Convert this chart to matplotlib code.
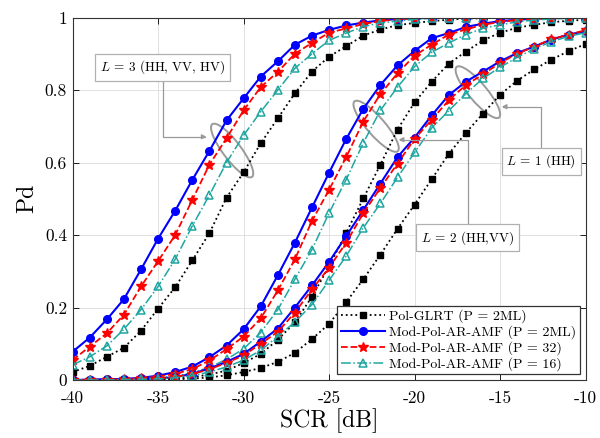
import numpy as np
import matplotlib
matplotlib.use("Agg")
import matplotlib.pyplot as plt
from matplotlib.patches import Ellipse
from matplotlib.transforms import ScaledTranslation

plt.rcParams['font.family'] = ['cmr10', 'DejaVu Serif']
plt.rcParams['mathtext.fontset'] = 'cm'
plt.rcParams['axes.unicode_minus'] = False
plt.rcParams['axes.formatter.use_mathtext'] = True

# SCR axis [dB], one point per dB
scr = np.arange(-40, -9)

# L = 3 (HH, VV, HV)
glrt_L3 = [0.022, 0.039, 0.064, 0.089, 0.136, 0.197, 0.256, 0.33, 0.405, 0.503,
           0.573, 0.653, 0.722, 0.791, 0.851, 0.892, 0.921, 0.95, 0.967, 0.979,
           0.985, 0.99, 0.994, 0.997, 0.998, 0.999, 1.0, 1.0, 1.0, 1.0, 1.0]
amf_L3 = [0.078, 0.117, 0.167, 0.223, 0.305, 0.39, 0.467, 0.552, 0.632, 0.716,
          0.777, 0.837, 0.879, 0.925, 0.95, 0.966, 0.978, 0.986, 0.992, 0.996,
          0.998, 0.999, 1.0, 1.0, 1.0, 1.0, 1.0, 1.0, 1.0, 1.0, 1.0]
amf32_L3 = [0.055, 0.092, 0.129, 0.18, 0.258, 0.328, 0.40, 0.497, 0.594, 0.667,
            0.744, 0.808, 0.85, 0.9, 0.93, 0.958, 0.97, 0.982, 0.99, 0.995,
            0.998, 0.999, 1.0, 1.0, 1.0, 1.0, 1.0, 1.0, 1.0, 1.0, 1.0]
amf16_L3 = [0.042, 0.064, 0.094, 0.14, 0.194, 0.258, 0.333, 0.425, 0.51, 0.60,
            0.675, 0.74, 0.80, 0.86, 0.90, 0.937, 0.957, 0.975, 0.985, 0.99,
            0.995, 0.998, 0.999, 1.0, 1.0, 1.0, 1.0, 1.0, 1.0, 1.0, 1.0]

# L = 2 (HH, VV)
glrt_L2 = [0.0, 0.0, 0.0, 0.001, 0.001, 0.002, 0.004, 0.008, 0.015, 0.026,
           0.047, 0.072, 0.111, 0.159, 0.23, 0.314, 0.406, 0.501, 0.594, 0.691,
           0.766, 0.823, 0.873, 0.906, 0.937, 0.958, 0.972, 0.98, 0.987, 0.991, 0.994]
amf_L2 = [0.0, 0.001, 0.002, 0.003, 0.006, 0.012, 0.022, 0.037, 0.063, 0.095,
          0.14, 0.203, 0.289, 0.379, 0.476, 0.572, 0.665, 0.748, 0.814, 0.868,
          0.908, 0.943, 0.957, 0.974, 0.983, 0.99, 0.994, 0.997, 0.998, 0.999, 1.0]
amf32_L2 = [0.0, 0.001, 0.001, 0.002, 0.005, 0.009, 0.017, 0.03, 0.054, 0.085,
            0.12, 0.17, 0.247, 0.333, 0.439, 0.525, 0.615, 0.713, 0.789, 0.846,
            0.895, 0.925, 0.953, 0.967, 0.98, 0.988, 0.993, 0.996, 0.998, 0.999, 1.0]
amf16_L2 = [0.0, 0.0, 0.001, 0.002, 0.003, 0.006, 0.011, 0.02, 0.035, 0.057,
            0.086, 0.131, 0.194, 0.278, 0.36, 0.461, 0.553, 0.654, 0.744, 0.808,
            0.865, 0.904, 0.93, 0.953, 0.97, 0.98, 0.988, 0.993, 0.996, 0.998, 0.999]

# L = 1 (HH)
glrt_L1 = [0.0, 0.0, 0.0, 0.0, 0.001, 0.001, 0.002, 0.004, 0.007, 0.013,
           0.022, 0.033, 0.05, 0.075, 0.113, 0.155, 0.215, 0.278, 0.346, 0.417,
           0.484, 0.554, 0.624, 0.682, 0.735, 0.787, 0.826, 0.857, 0.884, 0.907, 0.927]
amf_L1 = [0.0, 0.0, 0.001, 0.001, 0.002, 0.004, 0.008, 0.017, 0.032, 0.05,
          0.072, 0.106, 0.142, 0.2, 0.261, 0.326, 0.397, 0.469, 0.542, 0.615,
          0.669, 0.73, 0.786, 0.823, 0.851, 0.879, 0.902, 0.92, 0.939, 0.953, 0.962]
amf32_L1 = [0.0, 0.0, 0.001, 0.001, 0.002, 0.004, 0.008, 0.016, 0.03, 0.047,
            0.068, 0.1, 0.133, 0.186, 0.25, 0.31, 0.379, 0.46, 0.53, 0.597,
            0.665, 0.718, 0.772, 0.814, 0.843, 0.875, 0.9, 0.92, 0.94, 0.953, 0.965]
amf16_L1 = [0.0, 0.0, 0.0, 0.001, 0.002, 0.003, 0.006, 0.012, 0.022, 0.036,
            0.055, 0.082, 0.12, 0.16, 0.208, 0.275, 0.342, 0.42, 0.487, 0.559,
            0.628, 0.695, 0.743, 0.79, 0.832, 0.863, 0.89, 0.914, 0.933, 0.948, 0.958]

labels = ['Pol-GLRT (P = 2ML)', 'Mod-Pol-AR-AMF (P = 2ML)',
          'Mod-Pol-AR-AMF (P = 32)', 'Mod-Pol-AR-AMF (P = 16)']
xticks = [-40, -35, -30, -25, -20, -15, -10]
yticks = [0, 0.2, 0.4, 0.6, 0.8, 1]
teal = '#1fa6a2'

styles = [
    dict(color='black', ls=':', lw=1.3, marker='s', ms=4.5, mfc='black', mec='black'),
    dict(color='#0000ff', ls='-', lw=1.5, marker='o', ms=5.5, mfc='#0000ff', mec='#0000ff'),
    dict(color='#ff0000', ls='--', lw=1.3, marker='*', ms=7, mfc='#ff0000', mec='#ff0000'),
    dict(color=teal, ls='-.', lw=1.1, marker='^', ms=6, mfc='none', mec=teal, mew=1.1),
]
groups = [
    [glrt_L3, amf_L3, amf32_L3, amf16_L3],
    [glrt_L2, amf_L2, amf32_L2, amf16_L2],
    [glrt_L1, amf_L1, amf32_L1, amf16_L1],
]

fig = plt.figure(figsize=(6.0, 4.38), dpi=100)
ax = fig.add_axes([0.121, 0.1324, 0.855, 0.8276])

for gi, grp in enumerate(groups):
    for si, vals in enumerate(grp):
        ax.plot(scr, vals, label=labels[si] if gi == 0 else None, **styles[si])

ax.set_xlim(-40, -10)
ax.set_ylim(0, 1)
ax.set_xticks(xticks)
ax.set_xticklabels([str(v) for v in xticks])
ax.set_yticks(yticks)
ax.set_yticklabels(['0', '0.2', '0.4', '0.6', '0.8', '1'])
ax.tick_params(direction='in', length=4, width=0.6, labelsize=12.5, top=True, right=True)
ax.tick_params(axis='x', pad=8)
ax.tick_params(axis='y', pad=4)
ax.grid(True, color='#dcdcdc', lw=0.6)
ax.set_axisbelow(True)
for sp in ax.spines.values():
    sp.set_linewidth(0.8)
    sp.set_color('#333333')
ax.set_xlabel('SCR [dB]', fontsize=17, labelpad=1)
ax.set_ylabel('Pd', fontsize=17, labelpad=5)

leg = ax.legend(loc='lower right', fontsize=10, handlelength=3.2, handletextpad=0.3,
                borderpad=0.25, labelspacing=0.15, borderaxespad=0.4,
                fancybox=False, framealpha=1, edgecolor='#333333')
leg.get_frame().set_linewidth(0.9)

# group ellipses (size in inches, placed at data point)
ellipses = [(-30.67, 0.633, 0.66, 0.18, -53),
            (-22.25, 0.700, 0.66, 0.18, -49),
            (-16.30, 0.794, 0.66, 0.18, -50)]
for ex, ey, w, h, ang in ellipses:
    e = Ellipse((0, 0), w, h, angle=ang, fill=False, ec='#9a9a9a', lw=1.4,
                transform=fig.dpi_scale_trans + ScaledTranslation(ex, ey, ax.transData))
    ax.add_artist(e)

# annotation boxes with elbow arrows
notes = [(r'$L$ = 3 (HH, VV, HV)', (-34.74, 0.863), (-32.16, 0.671)),
         (r'$L$ = 2 (HH,VV)', (-16.9, 0.392), (-20.94, 0.663)),
         (r'$L$ = 1 (HH)', (-12.6, 0.604), (-14.91, 0.754))]
for txt, pos, tip in notes:
    ax.annotate(txt, xy=tip, xytext=pos, fontsize=9.5, ha='center', va='center',
                bbox=dict(boxstyle='square,pad=0.35', fc='white', ec='#b0b0b0', lw=0.9),
                arrowprops=dict(arrowstyle='-|>', color='#999999', lw=0.9,
                                mutation_scale=7, shrinkA=0, shrinkB=0,
                                connectionstyle='angle,angleA=90,angleB=0,rad=0'))

fig.savefig('out.png', dpi=100)
